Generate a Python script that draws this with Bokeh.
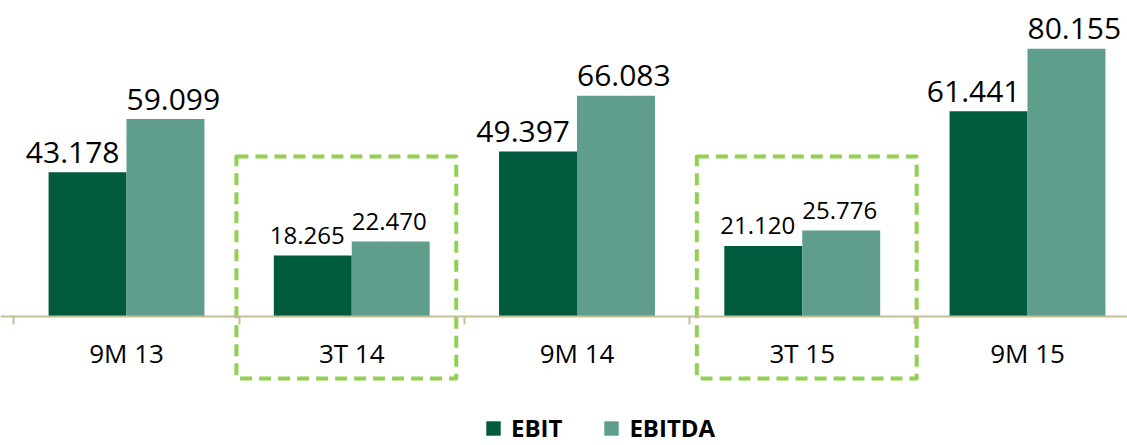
from bokeh.plotting import figure
from bokeh.models import ColumnDataSource, Range1d, LinearAxis, FixedTicker, Legend, LegendItem
from bokeh.core.properties import value
from bokeh.embed import file_html
from bokeh.resources import INLINE

# ---- data ----
categories = ["9M 13", "3T 14", "9M 14", "3T 15", "9M 15"]
ebit = [43.178, 18.265, 49.397, 21.120, 61.441]
ebitda = [59.099, 22.470, 66.083, 25.776, 80.155]
ebit_labels = ["43.178", "18.265", "49.397", "21.120", "61.441"]
ebitda_labels = ["59.099", "22.470", "66.083", "25.776", "80.155"]
highlighted = ["3T 14", "3T 15"]

# ---- style ----
C_EBIT = "#005A3E"
C_EBITDA = "#5F9E8C"
C_BOX = "#92D050"
C_AXIS = "#C4BD97"
FONT = "Open Sans"
BAR_W = 0.346
PX_X = 225.25   # pixels per category
PX_Y = 3.34     # pixels per value unit

idx = list(range(len(categories)))
label_sizes = ["24px" if c in highlighted else "30px" for c in categories]
gap_y = 20 / PX_Y

src = ColumnDataSource(dict(
    idx=idx,
    x_ebit=[i - BAR_W / 2 for i in idx],
    x_ebitda=[i + BAR_W / 2 for i in idx],
    ebit=ebit, ebitda=ebitda,
    ebit_lx=[i - 7 / PX_X for i in idx],
    ebitda_lx=[i + 0 / PX_X for i in idx],
    ebit_ly=[v + gap_y for v in ebit],
    ebitda_ly=[v + gap_y for v in ebitda],
    ebit_lbl=ebit_labels, ebitda_lbl=ebitda_labels,
    fs=label_sizes,
))

W, H = 1127, 445
x0 = -126 / PX_X
y_top = 316 / PX_Y
y_bot = -(H - 316) / PX_Y
p = figure(width=W, height=H, output_backend="svg", toolbar_location=None,
           x_range=Range1d(x0, x0 + W / PX_X), y_range=Range1d(y_bot, y_top),
           x_axis_location=None, y_axis_location=None,
           min_border=0, outline_line_color=None)
p.grid.visible = False

r_ebit = p.vbar(x="x_ebit", top="ebit", bottom=0, width=BAR_W, source=src,
                fill_color=C_EBIT, line_color=None)
r_ebitda = p.vbar(x="x_ebitda", top="ebitda", bottom=0, width=BAR_W, source=src,
                  fill_color=C_EBITDA, line_color=None)

p.text(x="ebit_lx", y="ebit_ly", text="ebit_lbl", source=src, text_align="right",
       text_baseline="alphabetic",
       text_font=value(FONT), text_font_size="fs", text_color="#000000")
p.text(x="ebitda_lx", y="ebitda_ly", text="ebitda_lbl", source=src, text_align="left",
       text_baseline="alphabetic",
       text_font=value(FONT), text_font_size="fs", text_color="#000000")

# highlight boxes
box_shift = [-0.024, 0.02]
hx = [categories.index(c) + s for c, s in zip(highlighted, box_shift)]
p.quad(left=[x - 0.488 for x in hx], right=[x + 0.488 for x in hx],
       top=(316 - 156) / PX_Y, bottom=-(378 - 316) / PX_Y,
       fill_color=None, line_color=C_BOX,
       line_width=4, line_dash="12 7", line_join="round")

# category axis
axis = LinearAxis(ticker=FixedTicker(ticks=idx, minor_ticks=[i - 0.5 for i in idx] + [idx[-1] + 0.5]),
                  major_label_overrides={i: c for i, c in zip(idx, categories)},
                  fixed_location=0)
axis.axis_line_color = C_AXIS
axis.axis_line_width = 2
axis.major_tick_out = 0
axis.major_tick_in = 0
axis.minor_tick_out = 8
axis.minor_tick_in = 0
axis.minor_tick_line_color = C_AXIS
axis.minor_tick_line_width = 2
axis.major_label_standoff = 10
axis.major_label_text_font = FONT
axis.major_label_text_font_size = "26px"
axis.major_label_text_color = "#000000"
p.add_layout(axis, "below")

legend = Legend(items=[LegendItem(label="EBIT", renderers=[r_ebit]),
                       LegendItem(label="EBITDA", renderers=[r_ebitda])],
                location=(484, 1), orientation="horizontal",
                glyph_width=18, glyph_height=18, label_standoff=9, spacing=40,
                padding=0, margin=0, border_line_alpha=0, background_fill_alpha=0,
                label_text_font=FONT, label_text_font_style="bold",
                label_text_font_size="24px", label_text_color="#000000")
p.add_layout(legend, "center")

open("out.html", "w").write(file_html(p, INLINE))
